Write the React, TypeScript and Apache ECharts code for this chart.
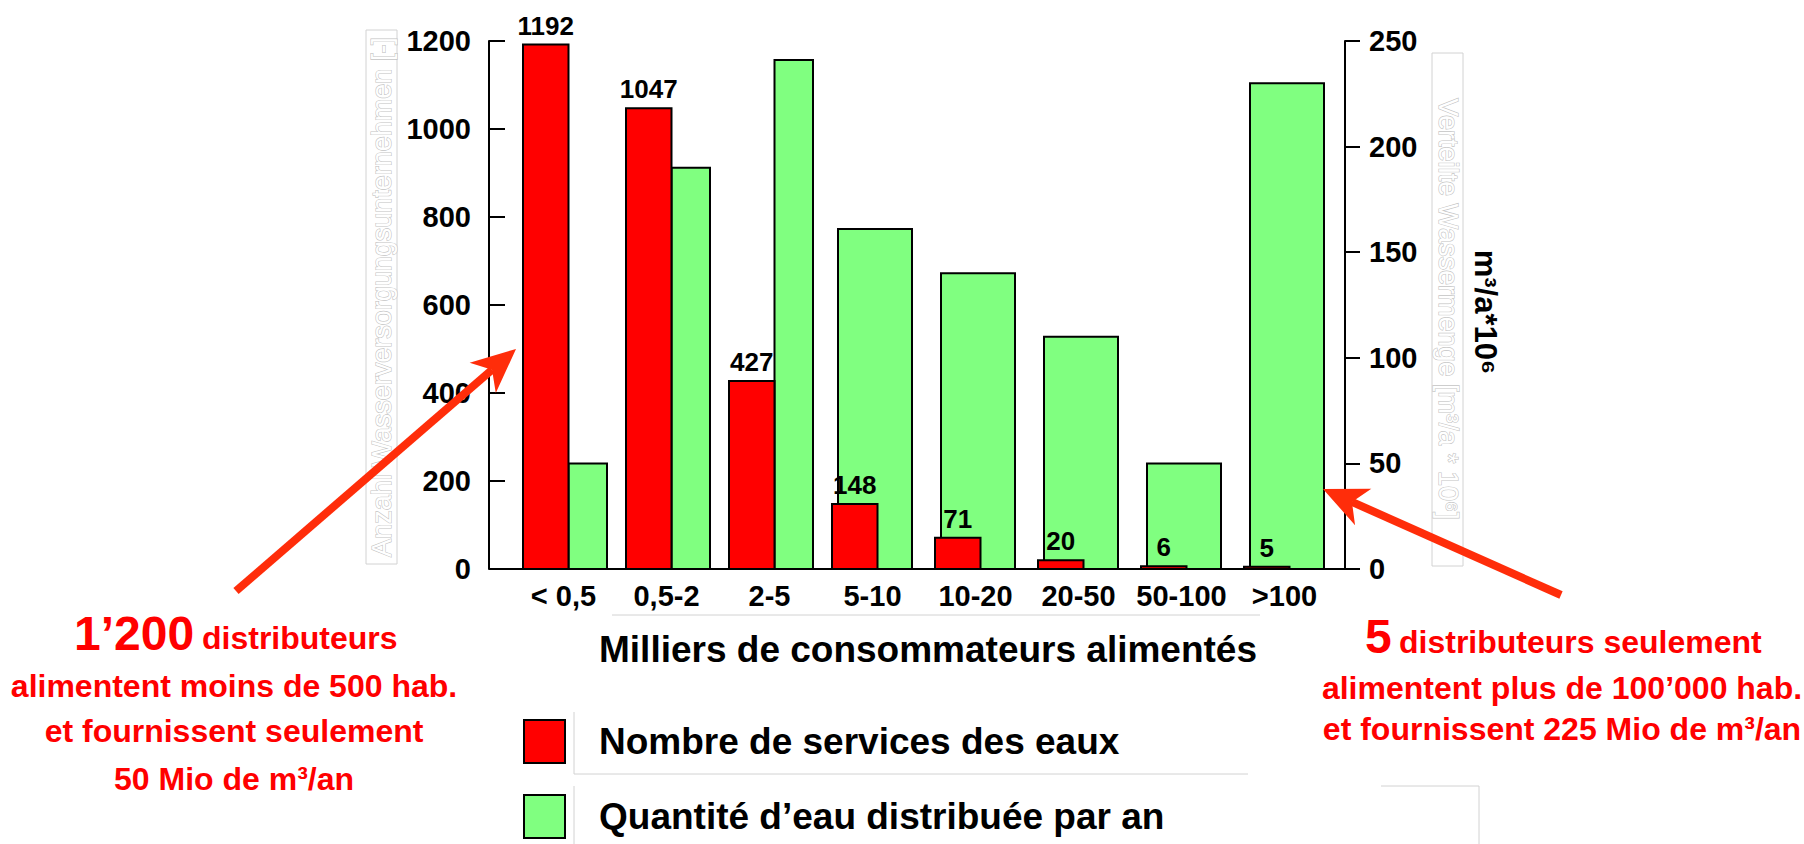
import React, { useEffect, useRef } from "react";
import * as echarts from "echarts";

// ---- data ----
const categories = ["< 0,5", "0,5-2", "2-5", "5-10", "10-20", "20-50", "50-100", ">100"];
const serviceCounts = [1192, 1047, 427, 148, 71, 20, 6, 5];
const waterVolumes = [50, 190, 241, 161, 140, 110, 50, 230];
const leftAxis = { min: 0, max: 1200, interval: 200 };
const rightAxis = { min: 0, max: 250, interval: 50 };
const seriesNames = ["Nombre de services des eaux", "Quantité d’eau distribuée par an"];
const xTitle = "Milliers de consommateurs alimentés";
const rightUnit = "m³/a*10⁶";
const ghostLeft = "Anzahl Wasserversorgungsunternehmen [-]";
const ghostRight = "Verteilte Wassermenge [m³/a * 10⁶]";

// ---- layout ----
const W = 1804;
const H = 844;
const FONT = '"Liberation Sans", Arial, sans-serif';
const AXIS_L = 489;
const AXIS_R = 1345;
const GRID_LEFT = 516;
const GRID_W = 824;
const GRID_TOP = 41;
const BASE_Y = 569;
const RED = "#ff0000";
const GREEN = "#80ff80";
const ARROW = "#ff2d0a";
const FAINT = "#d2d2d2";
const NARROW_UNTIL = 3;

function arrow(tail: number[], tip: number[]) {
  const dx = tip[0] - tail[0];
  const dy = tip[1] - tail[1];
  const len = Math.hypot(dx, dy);
  const ux = dx / len;
  const uy = dy / len;
  const nx = -uy;
  const ny = ux;
  const L = 44;
  const Wd = 20;
  const back = [tip[0] - L * ux, tip[1] - L * uy];
  const notch = [tip[0] - 0.72 * L * ux, tip[1] - 0.72 * L * uy];
  return [
    {
      type: "line",
      z: 100,
      shape: { x1: tail[0], y1: tail[1], x2: notch[0], y2: notch[1] },
      style: { stroke: ARROW, lineWidth: 8 },
    },
    {
      type: "polygon",
      z: 100,
      shape: {
        points: [
          tip,
          [back[0] + Wd * nx, back[1] + Wd * ny],
          notch,
          [back[0] - Wd * nx, back[1] - Wd * ny],
        ],
      },
      style: { fill: ARROW },
    },
  ];
}

function redText(x: number, y: number, text: string, size: number, align = "center") {
  return {
    type: "text",
    x,
    y,
    z: 50,
    style: {
      text,
      font: `bold ${size}px ${FONT}`,
      fill: RED,
      align,
      verticalAlign: "middle",
    },
  };
}

function faintLine(x1: number, y1: number, x2: number, y2: number) {
  return {
    type: "line",
    z: 1,
    shape: { x1, y1, x2, y2 },
    style: { stroke: FAINT, lineWidth: 1 },
  };
}

function makeRender(kind: "red" | "green") {
  return (params: any, api: any) => {
    const i = api.value(0);
    const v = api.value(1);
    const top = api.coord([i, v]);
    const base = api.coord([i, 0]);
    const band = api.size([1, 0])[0];
    const k = band / 103;
    const start = base[0] - band / 2;
    let l: number;
    let r: number;
    if (kind === "red") {
      l = 7;
      r = 52.5;
    } else if (i < NARROW_UNTIL) {
      l = 52.5;
      r = 91;
    } else {
      l = 13;
      r = 87;
    }
    const el: any = {
      type: "rect",
      shape: { x: start + l * k, y: top[1], width: (r - l) * k, height: base[1] - top[1] },
      style: { fill: kind === "red" ? RED : GREEN, stroke: "#000", lineWidth: 2 },
    };
    if (kind === "red") {
      el.textContent = {
        style: { text: String(v), font: `bold 26px ${FONT}`, fill: "#000" },
      };
      el.textConfig = { position: "top", distance: 5 };
    }
    return el;
  };
}

function legendFor(idx: number, top: number, color: string) {
  return {
    orient: "horizontal",
    left: 523,
    top,
    padding: 0,
    itemWidth: 41,
    itemHeight: 43,
    icon: "rect",
    selectedMode: false,
    textStyle: {
      color: "#000",
      fontFamily: FONT,
      fontWeight: "bold",
      fontSize: 37,
      padding: [0, 0, 0, 29],
    },
    data: [{ name: seriesNames[idx], itemStyle: { color, borderColor: "#000", borderWidth: 2 } }],
  };
}

export default function App() {
  const ref = useRef<HTMLDivElement>(null);

  useEffect(() => {
    const chart = echarts.init(ref.current!, null, { renderer: "svg" });
    const axisLabelStyle = { color: "#000", fontFamily: FONT, fontWeight: "bold", fontSize: 29 };
    const plain = (v: number) => String(v);

    const option: any = {
      animation: false,
      backgroundColor: "#fff",
      grid: { left: GRID_LEFT, width: GRID_W, top: GRID_TOP, bottom: H - BASE_Y },
      xAxis: {
        type: "category",
        data: categories,
        axisLine: { show: false },
        axisTick: { show: false },
        axisLabel: { ...axisLabelStyle, margin: 12, padding: [0, 8, 0, 0], interval: 0 },
        name: xTitle,
        nameLocation: "middle",
        nameGap: 62,
        nameTextStyle: { color: "#000", fontFamily: FONT, fontWeight: "bold", fontSize: 37 },
      },
      yAxis: [
        {
          type: "value",
          position: "left",
          offset: GRID_LEFT - AXIS_L,
          ...leftAxis,
          splitLine: { show: false },
          axisLine: { show: true, lineStyle: { color: "#000", width: 2 } },
          axisTick: { show: true, inside: true, length: 16, lineStyle: { color: "#000", width: 2 } },
          axisLabel: { ...axisLabelStyle, margin: 18, formatter: plain },
        },
        {
          type: "value",
          position: "right",
          offset: AXIS_R - (GRID_LEFT + GRID_W),
          ...rightAxis,
          splitLine: { show: false },
          axisLine: { show: true, lineStyle: { color: "#000", width: 2 } },
          axisTick: { show: true, inside: false, length: 15, lineStyle: { color: "#000", width: 2 } },
          axisLabel: { ...axisLabelStyle, margin: 24, formatter: plain },
        },
      ],
      legend: [legendFor(0, 719, RED), legendFor(1, 794, GREEN)],
      series: [
        {
          type: "custom",
          name: seriesNames[1],
          yAxisIndex: 1,
          z: 2,
          itemStyle: { color: GREEN },
          encode: { x: 0, y: 1 },
          renderItem: makeRender("green"),
          data: waterVolumes.map((v, i) => [i, v]),
        },
        {
          type: "custom",
          name: seriesNames[0],
          yAxisIndex: 0,
          z: 3,
          itemStyle: { color: RED },
          encode: { x: 0, y: 1 },
          renderItem: makeRender("red"),
          data: serviceCounts.map((v, i) => [i, v]),
        },
      ],
      graphic: [
        {
          type: "line",
          z: 10,
          shape: { x1: AXIS_L, y1: BASE_Y, x2: AXIS_R, y2: BASE_Y },
          style: { stroke: "#000", lineWidth: 2 },
        },
        {
          type: "rect",
          z: 1,
          shape: { x: 366, y: 30, width: 31, height: 534 },
          style: { fill: "none", stroke: FAINT, lineWidth: 1 },
        },
        {
          type: "text",
          x: 382,
          y: 297,
          rotation: Math.PI / 2,
          z: 2,
          style: {
            text: ghostLeft,
            font: `27px ${FONT}`,
            fill: "#fff",
            stroke: "#c4c4c4",
            lineWidth: 1.2,
            align: "center",
            verticalAlign: "middle",
          },
        },
        {
          type: "rect",
          z: 1,
          shape: { x: 1432, y: 53, width: 31, height: 513 },
          style: { fill: "none", stroke: FAINT, lineWidth: 1 },
        },
        {
          type: "text",
          x: 1448,
          y: 309,
          rotation: -Math.PI / 2,
          z: 2,
          style: {
            text: ghostRight,
            font: `27px ${FONT}`,
            fill: "#fff",
            stroke: "#c4c4c4",
            lineWidth: 1.2,
            align: "center",
            verticalAlign: "middle",
          },
        },
        {
          type: "text",
          x: 1485,
          y: 312,
          rotation: -Math.PI / 2,
          z: 20,
          style: {
            text: rightUnit,
            font: `bold 31px ${FONT}`,
            fill: "#000",
            align: "center",
            verticalAlign: "middle",
          },
        },
        faintLine(612, 615, 1260, 615),
        faintLine(574, 712, 574, 774),
        faintLine(574, 774, 1248, 774),
        faintLine(574, 786, 574, 844),
        faintLine(1381, 786, 1479, 786),
        faintLine(1479, 786, 1479, 844),
        redText(74, 633, "1’200", 48, "left"),
        redText(202, 638, "distributeurs", 32, "left"),
        redText(234, 686, "alimentent moins de 500 hab.", 32),
        redText(234, 731, "et fournissent seulement", 32),
        redText(234, 779, "50 Mio de m³/an", 32),
        redText(1365, 636, "5", 48, "left"),
        redText(1399, 642, "distributeurs seulement", 32, "left"),
        redText(1562, 688, "alimentent plus de 100’000 hab.", 32),
        redText(1562, 729, "et fournissent 225 Mio de m³/an", 32),
        ...arrow([236, 591], [516, 349]),
        ...arrow([1561, 595], [1323, 489]),
      ],
    };

    chart.setOption(option);
    return () => chart.dispose();
  }, []);

  return (
    <div
      ref={ref}
      style={{ position: "absolute", left: 0, top: 0, width: W, height: H, background: "#fff" }}
    />
  );
}
